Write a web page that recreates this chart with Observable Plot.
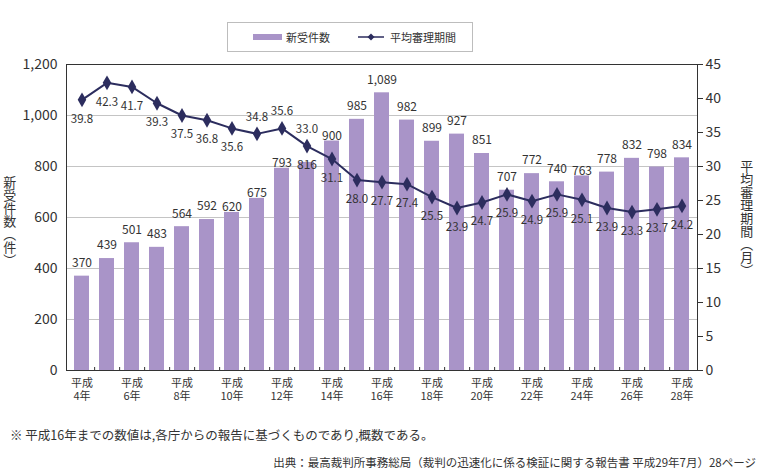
<!DOCTYPE html>
<html><head><meta charset="utf-8">
<script src="https://cdn.jsdelivr.net/npm/d3@7"></script>
<script src="https://cdn.jsdelivr.net/npm/@observablehq/plot@0.6"></script>
<style>
body{margin:0;background:#fff;font-family:"Noto Sans CJK JP","Noto Sans",sans-serif;color:#333;}
#wrap{position:relative;width:760px;height:473px;}
#legend{position:absolute;left:227px;top:22px;width:244px;height:28px;border:1px solid #bdbdbd;display:flex;align-items:center;font-size:11px;}
.vt{position:absolute;writing-mode:vertical-rl;font-size:13px;line-height:1.1;}
#note{position:absolute;left:10px;top:425px;font-size:12.5px;}
#src{position:absolute;right:4px;top:454px;font-size:11.5px;}
</style></head><body>
<div id="wrap">
<div id="chart"></div>
<div id="legend"></div>
<div class="vt" id="ly" style="left:2px;top:176px;">新受件数（件）</div>
<div class="vt" id="ry" style="left:739px;top:160px;">平均審理期間（月）</div>
<div id="note"></div>
<div id="src"></div>
</div>
<script>
const years = [4,5,6,7,8,9,10,11,12,13,14,15,16,17,18,19,20,21,22,23,24,25,26,27,28];
const cases = [370,439,501,483,564,592,620,675,793,816,900,985,1089,982,899,927,851,707,772,740,763,778,832,798,834];
const period = [39.8,42.3,41.7,39.3,37.5,36.8,35.6,34.8,35.6,33.0,31.1,28.0,27.7,27.4,25.5,23.9,24.7,25.9,24.9,25.9,25.1,23.9,23.3,23.7,24.2];
const leftTicks = [0,200,400,600,800,1000,1200];
const rightTicks = [0,5,10,15,20,25,30,35,40,45];
const seriesNames = ["新受件数","平均審理期間"];
const noteText = "※ 平成16年までの数値は,各庁からの報告に基づくものであり,概数である。";
const sourceText = "出典：最高裁判所事務総局（裁判の迅速化に係る検証に関する報告書 平成29年7月）28ページ";
// label placement styles (not data)
const lineLabelAbove = [11,12,13];
const barLabelNear = [10,11,12,14,24];
const barLabelInside = [13];

const FONT = '"Noto Sans CJK JP","Noto Sans",sans-serif';
const BAR = "#a994c8", LINE = "#2c2d5e", TXT = "#333";
const W = 760, H = 410, mT = 64, mB = 40, mL = 66, mR = 63;
const pIn = 0.42, pOut = 0.2;
const step = (W - mL - mR) / (years.length - pIn + 2 * pOut);
const k = 1200 / 45;
const rows = years.map((y, i) => ({year: y, cases: cases[i], period: period[i], p: period[i] * k}));
const fmt = d3.format(",");
const barLbl = (filter, dy) => Plot.text(rows, {x: "year", y: "cases", text: d => fmt(d.cases), fill: TXT, fontSize: 12, dy, filter});

const chart = Plot.plot({
  width: W, height: H, marginTop: mT, marginBottom: mB, marginLeft: mL, marginRight: mR,
  style: {fontFamily: FONT, color: TXT, background: "transparent", overflow: "visible"},
  x: {domain: years, paddingInner: pIn, paddingOuter: pOut, label: null},
  y: {domain: [0, 1200], label: null},
  marks: [
    Plot.gridY(leftTicks, {stroke: "#c4c4c4", strokeOpacity: 1}),
    Plot.barY(rows, {x: "year", y: "cases", fill: BAR}),
    Plot.ruleX(years.slice(0, -1), {dx: step / 2, insetTop: H - mT - mB - 3, stroke: "#333"}),
    Plot.frame({stroke: "#333"}),
    Plot.line(rows, {x: "year", y: "p", stroke: LINE, strokeWidth: 2}),
    Plot.dot(rows, {x: "year", y: "p", symbol: "diamond", fill: LINE, r: 4.5}),
    barLbl(d => !barLabelNear.includes(d.year) && !barLabelInside.includes(d.year), -13),
    barLbl(d => barLabelNear.includes(d.year), -5),
    barLbl(d => barLabelInside.includes(d.year), 3),
    Plot.text(rows, {x: "year", y: "p", text: d => d.period.toFixed(1), fill: TXT, fontSize: 11.5,
      dy: 19, filter: d => !lineLabelAbove.includes(d.year)}),
    Plot.text(rows, {x: "year", y: "p", text: d => d.period.toFixed(1), fill: TXT, fontSize: 11.5,
      dy: -17, filter: d => lineLabelAbove.includes(d.year)}),
    Plot.axisY(leftTicks, {anchor: "left", tickSize: 0, tickPadding: 9, tickFormat: fmt, fontSize: 14, fill: TXT}),
    Plot.axisY(rightTicks.map(v => v * k), {anchor: "right", tickSize: 5, tickPadding: 3, tickFormat: d => String(Math.round(d / k)), fontSize: 14, fill: TXT, stroke: "#333"}),
    Plot.axisX(years.filter(y => y % 2 === 0), {anchor: "bottom", tickSize: 0, tickPadding: 7, tickFormat: d => `平成\n${d}年`, fontSize: 11, lineHeight: 1.22, fill: TXT})
  ]
});
document.getElementById("chart").append(chart);

const legend = document.getElementById("legend");
legend.innerHTML =
  `<span style="display:inline-block;width:29px;height:6px;background:${BAR};margin-left:25px;margin-right:4px"></span><span>${seriesNames[0]}</span>` +
  `<svg width="26" height="10" style="margin-left:28px;margin-right:6px"><line x1="0" y1="5" x2="26" y2="5" stroke="${LINE}" stroke-width="1.5"/><path d="M13,1.5L16.5,5L13,8.5L9.5,5Z" fill="${LINE}"/></svg><span>${seriesNames[1]}</span>`;
document.getElementById("note").textContent = noteText;
document.getElementById("src").textContent = sourceText;
</script>
</body></html>
